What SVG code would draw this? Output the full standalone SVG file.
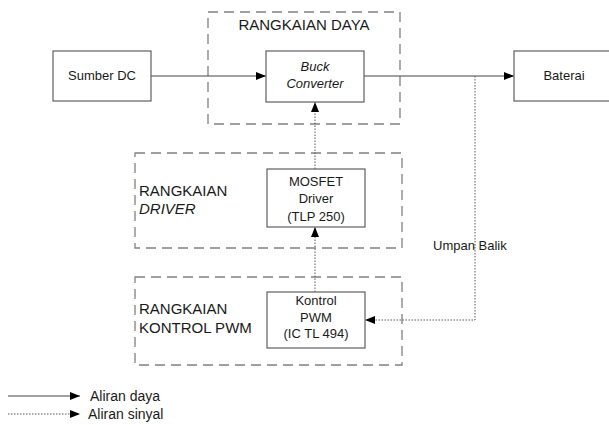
<svg xmlns="http://www.w3.org/2000/svg" width="609" height="425" viewBox="0 0 609 425">
<style>
text{font-family:"Liberation Sans",Arial,sans-serif;fill:#1a1a1a;}
.t{font-size:13px;text-anchor:middle;}
.g{font-size:15px;}
.box{fill:#fff;stroke:#606060;stroke-width:1.2;}
.grp{fill:none;stroke:#808080;stroke-width:1.3;stroke-dasharray:10,6;}
.pw{fill:none;stroke:#444;stroke-width:1;}
.sg{fill:none;stroke:#555;stroke-width:1;stroke-dasharray:1.5,1.5;}
</style>
<defs>
<marker id="ah" viewBox="0 0 10 8" refX="10" refY="4" markerWidth="10" markerHeight="8" markerUnits="userSpaceOnUse" orient="auto">
<path d="M0,0 L10,4 L0,8 Z" fill="#000"/>
</marker>
</defs>
<rect width="609" height="425" fill="#fff"/>
<g id="grp-daya"><rect class="grp" x="208" y="12" width="192" height="112"/><text class="g" x="304" y="30" text-anchor="middle">RANGKAIAN DAYA</text></g>
<g id="grp-driver"><rect class="grp" x="135" y="153" width="267" height="95"/><text class="g" x="139" y="196">RANGKAIAN</text><text class="g" x="139" y="214" font-style="italic">DRIVER</text></g>
<g id="grp-pwm"><rect class="grp" x="135" y="277" width="267" height="88"/><text class="g" x="139" y="314">RANGKAIAN</text><text class="g" x="139" y="333">KONTROL PWM</text></g>
<g id="connectors">
<line class="pw" x1="151" y1="76" x2="266" y2="76" marker-end="url(#ah)"/>
<line class="pw" x1="364" y1="76" x2="514" y2="76" marker-end="url(#ah)"/>
<line class="sg" x1="315" y1="169" x2="315" y2="102" marker-end="url(#ah)"/>
<line class="sg" x1="315" y1="292" x2="315" y2="227" marker-end="url(#ah)"/>
<polyline class="sg" points="475,76 475,320 365,320" marker-end="url(#ah)"/>
<text x="433" y="250" font-size="13">Umpan Balik</text>
</g>
<g id="sumber"><rect class="box" x="53" y="51" width="98" height="50"/><text class="t" x="102" y="80" font-size="14">Sumber DC</text></g>
<g id="buck"><rect class="box" x="266" y="51" width="98" height="51"/><text class="t" x="315" y="71" font-style="italic">Buck</text><text class="t" x="315" y="88" font-style="italic">Converter</text></g>
<g id="baterai"><rect class="box" x="514" y="51" width="100" height="50"/><text class="t" x="564" y="80" font-size="14">Baterai</text></g>
<g id="mosfet"><rect class="box" x="267" y="169" width="98" height="58"/><text class="t" x="316" y="186">MOSFET</text><text class="t" x="316" y="203">Driver</text><text class="t" x="316" y="221">(TLP 250)</text></g>
<g id="pwm"><rect class="box" x="267" y="292" width="98" height="56"/><text class="t" x="316" y="305">Kontrol</text><text class="t" x="316" y="322">PWM</text><text class="t" x="316" y="338">(IC TL 494)</text></g>
<g id="legend">
<line class="pw" x1="8" y1="396" x2="80" y2="396" marker-end="url(#ah)"/>
<text x="90" y="401" font-size="14">Aliran daya</text>
<line class="sg" x1="8" y1="414" x2="80" y2="414" marker-end="url(#ah)"/>
<text x="88" y="419" font-size="14">Aliran sinyal</text>
</g>
</svg>
